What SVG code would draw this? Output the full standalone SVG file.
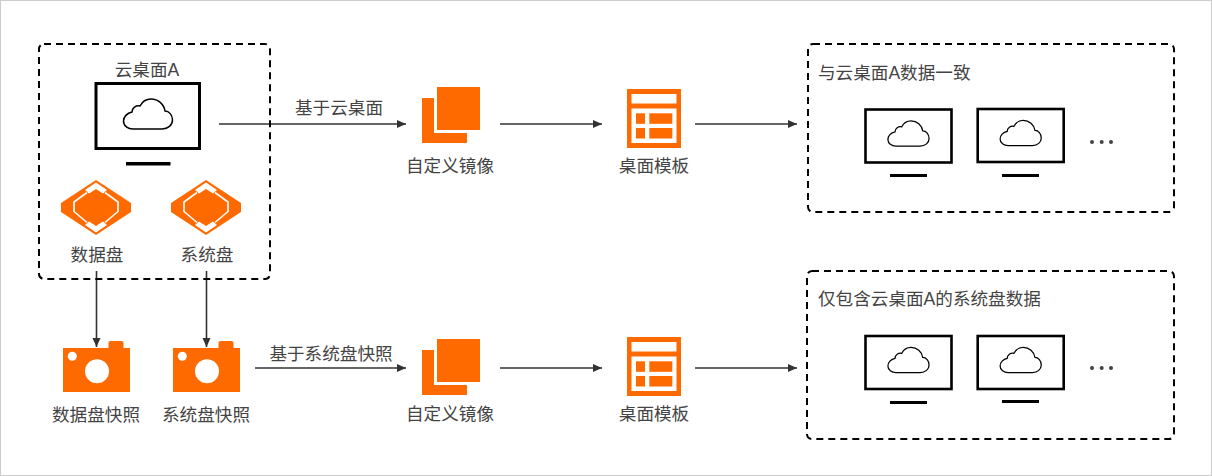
<svg xmlns="http://www.w3.org/2000/svg" xmlns:xlink="http://www.w3.org/1999/xlink" width="1212" height="476" viewBox="0 0 1212 476">
<style>
text{font-family:"Liberation Sans","Noto Sans CJK SC",sans-serif;font-size:17.6px;fill:#444}
.c{text-anchor:middle}
.box{fill:none;stroke:#000;stroke-width:2;stroke-dasharray:7 5}
.ln{fill:none;stroke:#333;stroke-width:1.6}
.o{fill:#ff6a00}
.w{fill:#fff}
.k{fill:#000}
</style>
<defs>
<marker id="ah" markerUnits="userSpaceOnUse" markerWidth="10" markerHeight="10" refX="9" refY="5" orient="auto"><path d="M0 1L9 5L0 9Z" fill="#333"/></marker>
<path id="cloud" d="M-15 15H14C20 15 24.500 11 24.500 6C24.500 1 21-3 17-3C16-10 10-15 3-15C-2-15-6-12-8-8C-12-9-16-6-16-2C-21-1-24.500 3-24.500 7C-24.500 12-20 15-15 15Z" fill="none" stroke="#000" stroke-width="1.500"/>
<g id="mon"><rect x="-43" y="-26.500" width="86" height="53" fill="#fff" stroke="#000" stroke-width="2.600"/><use xlink:href="#cloud" transform="translate(0 -2.500) scale(.84)"/></g>
<g id="disk"><path class="o" d="M0-27.500L35-4.500V4.500L0 27.500L-35 4.500V-4.500Z"/><path class="w" d="M0-25L11-17.500L7-14L0-18.500L-7-14L-11-17.500ZM0 25L11 17.500L7 14L0 18.500L-7 14L-11 17.500Z"/><path d="M-9-15L-22-5.500V4L-9 15M9-15L22-5.500V4L9 15" fill="none" stroke="#fff" stroke-width="1.600"/></g>
<g id="cam"><rect x="-33.500" y="-35" width="67" height="44" class="o"/><rect x="12" y="-42" width="15" height="10" rx="2" class="o"/><circle cx="0.500" cy="-11.700" r="12" class="w"/><circle cx="-24.200" cy="-26.700" r="4.500" class="w"/></g>
<g id="img"><rect x="0" y="11" width="45" height="45" class="o"/><rect x="12" y="7" width="46" height="39" class="w"/><rect x="15" y="0" width="43" height="43" class="o"/></g>
<g id="tpl"><rect x="0" y="0" width="54" height="59" class="o"/><rect x="4.500" y="5" width="45" height="9.500" class="w"/><rect x="4.500" y="19.500" width="45" height="34.500" class="w"/><rect x="9" y="24.300" width="9" height="10.500" class="o"/><rect x="22.300" y="24.300" width="23" height="10.500" class="o"/><rect x="9" y="39" width="9" height="10.500" class="o"/><rect x="22.300" y="39" width="23" height="10.500" class="o"/></g>
</defs>
<rect x="0.500" y="0.500" width="1211" height="475" fill="#fff" stroke="#ccc"/>
<g id="connectors">
<path class="ln" marker-end="url(#ah)" d="M219 124H406"/>
<path class="ln" marker-end="url(#ah)" d="M500 124H602"/>
<path class="ln" marker-end="url(#ah)" d="M695 124H797"/>
<path class="ln" marker-end="url(#ah)" d="M96.500 271V347"/>
<path class="ln" marker-end="url(#ah)" d="M206.500 271V347"/>
<path class="ln" marker-end="url(#ah)" d="M255 368H406"/>
<path class="ln" marker-end="url(#ah)" d="M500 368H602"/>
<path class="ln" marker-end="url(#ah)" d="M695 368H797"/>
</g>
<g id="source"><rect class="box" x="39" y="44" width="231" height="235" rx="5"/><text class="c" x="147" y="76">云桌面A</text>
<rect x="96" y="83.500" width="103.500" height="65" fill="#fff" stroke="#000" stroke-width="3"/><use xlink:href="#cloud" transform="translate(148 114)"/><rect x="126" y="162" width="44.500" height="3.500" class="k"/></g>
<g id="data-disk"><use xlink:href="#disk" transform="translate(96 207.500)"/><text class="c" x="97" y="261">数据盘</text></g>
<g id="sys-disk"><use xlink:href="#disk" transform="translate(206 207.500)"/><text class="c" x="207" y="261">系统盘</text></g>
<g id="data-snap"><use xlink:href="#cam" transform="translate(96.500 383)"/><text class="c" x="96" y="421">数据盘快照</text></g>
<g id="sys-snap"><use xlink:href="#cam" transform="translate(206.500 383)"/><text class="c" x="206" y="421">系统盘快照</text></g>
<text class="c" x="339" y="114">基于云桌面</text>
<text class="c" x="331" y="359.500">基于系统盘快照</text>
<g id="image1"><use xlink:href="#img" transform="translate(422 87)"/><text class="c" x="450" y="172">自定义镜像</text></g>
<g id="tpl1"><use xlink:href="#tpl" transform="translate(627 89)"/><text class="c" x="654" y="172">桌面模板</text></g>
<g id="image2"><use xlink:href="#img" transform="translate(422 339)"/><text class="c" x="450" y="420">自定义镜像</text></g>
<g id="tpl2"><use xlink:href="#tpl" transform="translate(627 337)"/><text class="c" x="654" y="420">桌面模板</text></g>
<g id="result1"><rect class="box" x="808" y="44" width="366" height="168" rx="5"/><text x="818" y="79">与云桌面A数据一致</text>
<use xlink:href="#mon" transform="translate(908.500 136)"/><use xlink:href="#mon" transform="translate(1020.700 135.500)"/>
<rect x="890" y="174" width="37" height="3" class="k"/><rect x="1002" y="174" width="37" height="3" class="k"/>
<g fill="#444"><circle cx="1092" cy="142" r="2"/><circle cx="1101.700" cy="142" r="2"/><circle cx="1111" cy="142" r="2"/></g></g>
<g id="result2"><rect class="box" x="807" y="271" width="367" height="168" rx="5"/><text x="818" y="305">仅包含云桌面A的系统盘数据</text>
<use xlink:href="#mon" transform="translate(908.500 362.500)"/><use xlink:href="#mon" transform="translate(1020.700 362.500)"/>
<rect x="890" y="401" width="37" height="3" class="k"/><rect x="1002" y="400" width="37" height="3" class="k"/>
<g fill="#444"><circle cx="1092" cy="368" r="2"/><circle cx="1101.700" cy="368" r="2"/><circle cx="1111" cy="368" r="2"/></g></g>
</svg>
